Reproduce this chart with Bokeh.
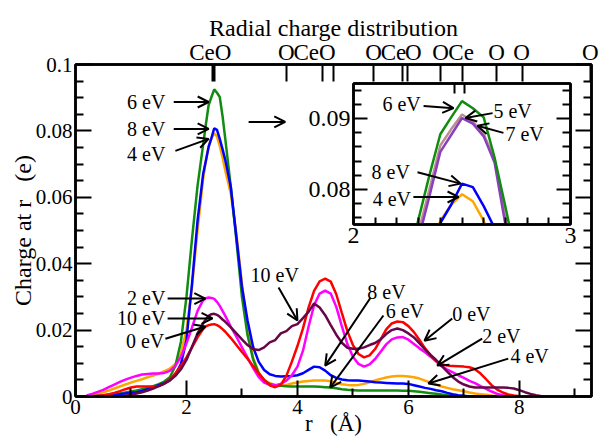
from bokeh.plotting import figure
from bokeh.models import (FixedTicker, LinearAxis, Range1d, Label, Arrow, OpenHead,
                          ColumnDataSource, AllLabels)
from bokeh.layouts import column
from bokeh.embed import file_html
from bokeh.resources import INLINE

FONT = "Liberation Serif"
NB = "\u00a0"

# ---------------- data (r in Angstrom, charge in e) ----------------
r_low = [0.2, 0.3, 0.4, 0.5, 0.6, 0.7, 0.8, 0.9, 1.0, 1.1, 1.2, 1.3, 1.4, 1.5, 1.6,
         1.7, 1.8, 1.9, 2.0, 2.1, 2.2, 2.3]
r_mid = [2.35, 2.4, 2.45, 2.5, 2.55, 2.6, 2.65]
r_high = [2.7, 2.8, 2.9, 3.0, 3.1, 3.2, 3.3, 3.4, 3.5, 3.6, 3.7, 3.8, 3.9,
          4.0, 4.1, 4.2, 4.3, 4.4, 4.5, 4.6, 4.7, 4.8, 4.9,
          5.0, 5.1, 5.2, 5.3, 5.4, 5.5, 5.6, 5.7, 5.8, 5.9,
          6.0, 6.1, 6.2, 6.3, 6.4, 6.5, 6.6, 6.7, 6.8, 6.9,
          7.0, 7.1, 7.2, 7.3, 7.4, 7.5, 7.6, 7.7, 7.8, 7.9,
          8.0, 8.1, 8.2, 8.3, 8.4, 8.5, 8.6, 8.7, 8.8]
r = r_low + r_mid + r_high

q_0eV = [0.0000, 0.0001, 0.0002, 0.0004, 0.0007, 0.0011, 0.0016, 0.0022, 0.0027, 0.0030, 0.0030,
         0.0030, 0.0030, 0.0031, 0.0038, 0.0052, 0.0070, 0.0092, 0.0118, 0.0148, 0.0178, 0.0203,
         0.0211, 0.0215, 0.0217, 0.0218, 0.0215, 0.0210, 0.0203,
         0.0195, 0.0176, 0.0155, 0.0134, 0.0114, 0.0092, 0.0070, 0.0050, 0.0034, 0.0028, 0.0035, 0.0062, 0.0105,
         0.0152, 0.0205, 0.0268, 0.0318, 0.0347, 0.0355, 0.0346, 0.0308, 0.0252, 0.0197,
         0.0155, 0.0128, 0.0118, 0.0124, 0.0143, 0.0172, 0.0202, 0.0220, 0.0226, 0.0224,
         0.0212, 0.0194, 0.0170, 0.0145, 0.0124, 0.0107, 0.0097, 0.0093, 0.0092, 0.0091,
         0.0090, 0.0088, 0.0082, 0.0069, 0.0052, 0.0034, 0.0021, 0.0012, 0.0006, 0.0003,
         0.0001, 0, 0, 0, 0, 0, 0, 0, 0]

q_2eV = [0.0003, 0.0008, 0.0014, 0.0020, 0.0028, 0.0036, 0.0044, 0.0051, 0.0057, 0.0062, 0.0066,
         0.0068, 0.0069, 0.0069, 0.0071, 0.0077, 0.0092, 0.0120, 0.0160, 0.0208, 0.0258, 0.0290,
         0.0296, 0.0298, 0.0297, 0.0294, 0.0285, 0.0273, 0.0258,
         0.0243, 0.0210, 0.0180, 0.0148, 0.0117, 0.0086, 0.0059, 0.0042, 0.0035, 0.0034, 0.0038, 0.0048, 0.0064,
         0.0090, 0.0138, 0.0210, 0.0275, 0.0310, 0.0319, 0.0310, 0.0270, 0.0212, 0.0158,
         0.0120, 0.0098, 0.0090, 0.0097, 0.0113, 0.0135, 0.0157, 0.0172, 0.0178, 0.0179,
         0.0171, 0.0158, 0.0145, 0.0133, 0.0120, 0.0105, 0.0091, 0.0081, 0.0073, 0.0064,
         0.0056, 0.0047, 0.0040, 0.0031, 0.0023, 0.0015, 0.0008, 0.0004, 0.0001, 0,
         0, 0, 0, 0, 0, 0, 0, 0, 0]

q_4eV = [0.0002, 0.0005, 0.0009, 0.0013, 0.0018, 0.0024, 0.0030, 0.0036, 0.0042, 0.0047, 0.0052,
         0.0058, 0.0063, 0.0069, 0.0076, 0.0084, 0.0098, 0.0130, 0.0200, 0.0330, 0.0500, 0.0655,
         0.0710, 0.0755, 0.0778, 0.0793, 0.0783, 0.0755, 0.0720,
         0.0680, 0.0610, 0.0490, 0.0340, 0.0205, 0.0118, 0.0073, 0.0050, 0.0040, 0.0035, 0.0033, 0.0035, 0.0039,
         0.0042, 0.0045, 0.0047, 0.0048, 0.0048, 0.0048, 0.0046, 0.0041, 0.0037, 0.0035,
         0.0034, 0.0035, 0.0038, 0.0043, 0.0048, 0.0053, 0.0057, 0.0060, 0.0062, 0.0062,
         0.0060, 0.0058, 0.0054, 0.0048, 0.0042, 0.0036, 0.0030, 0.0026, 0.0022, 0.0019,
         0.0016, 0.0012, 0.0009, 0.0007, 0.0005, 0.0003, 0.0002, 0.0001, 0, 0,
         0, 0, 0, 0, 0, 0, 0, 0, 0]

q_6eV = [0.0000, 0.0001, 0.0002, 0.0003, 0.0005, 0.0007, 0.0009, 0.0012, 0.0015, 0.0018, 0.0022,
         0.0026, 0.0031, 0.0037, 0.0045, 0.0058, 0.0092, 0.0165, 0.0300, 0.0475, 0.0635, 0.0758,
         0.0820, 0.0878, 0.0902, 0.0925, 0.0915, 0.0902, 0.0845,
         0.0775, 0.0630, 0.0470, 0.0300, 0.0185, 0.0112, 0.0070, 0.0048, 0.0038, 0.0034, 0.0032, 0.0031, 0.0030,
         0.0030, 0.0030, 0.0030, 0.0030, 0.0029, 0.0028, 0.0027, 0.0025, 0.0022, 0.0020,
         0.0019, 0.0018, 0.0018, 0.0018, 0.0018, 0.0018, 0.0018, 0.0018, 0.0018, 0.0017,
         0.0017, 0.0016, 0.0014, 0.0012, 0.0010, 0.0008, 0.0006, 0.0004, 0.0003, 0.0001,
         0, 0, 0, 0, 0, 0, 0, 0, 0, 0,
         0, 0, 0, 0, 0, 0, 0, 0, 0]

q_8eV = [0.0000, 0.0000, 0.0001, 0.0002, 0.0003, 0.0005, 0.0007, 0.0009, 0.0011, 0.0013, 0.0017,
         0.0022, 0.0028, 0.0034, 0.0040, 0.0050, 0.0066, 0.0098, 0.0170, 0.0340, 0.0530, 0.0670,
         0.0710, 0.0752, 0.0778, 0.0808, 0.0803, 0.0776, 0.0745,
         0.0712, 0.0630, 0.0480, 0.0330, 0.0230, 0.0150, 0.0105, 0.0080, 0.0067, 0.0062, 0.0060, 0.0061, 0.0062,
         0.0064, 0.0070, 0.0080, 0.0090, 0.0088, 0.0078, 0.0064, 0.0056, 0.0051, 0.0049,
         0.0048, 0.0048, 0.0047, 0.0045, 0.0043, 0.0042, 0.0041, 0.0040, 0.0039, 0.0039,
         0.0038, 0.0034, 0.0030, 0.0026, 0.0023, 0.0019, 0.0016, 0.0011, 0.0007, 0.0004,
         0.0002, 0, 0, 0, 0, 0, 0, 0, 0, 0,
         0, 0, 0, 0, 0, 0, 0, 0, 0]

q_10eV = [0, 0, 0, 0, 0, 0, 0, 0.0002, 0.0005, 0.0009, 0.0013,
          0.0018, 0.0024, 0.0031, 0.0039, 0.0048, 0.0062, 0.0082, 0.0110, 0.0150, 0.0190, 0.0220,
          0.0233, 0.0243, 0.0248, 0.0249, 0.0246, 0.0240, 0.0232,
          0.0225, 0.0208, 0.0190, 0.0172, 0.0155, 0.0143, 0.0140, 0.0148, 0.0163, 0.0170, 0.0190, 0.0197, 0.0212,
          0.0218, 0.0236, 0.0255, 0.0280, 0.0268, 0.0245, 0.0215, 0.0186, 0.0162, 0.0147,
          0.0144, 0.0144, 0.0148, 0.0155, 0.0161, 0.0172, 0.0188, 0.0200, 0.0205, 0.0200,
          0.0190, 0.0178, 0.0160, 0.0142, 0.0125, 0.0110, 0.0092, 0.0075, 0.0058, 0.0045,
          0.0036, 0.0030, 0.0027, 0.0027, 0.0027, 0.0027, 0.0027, 0.0027, 0.0026, 0.0024,
          0.0019, 0.0013, 0.0008, 0.0004, 0.0001, 0, 0, 0, 0]

# inset-only series (5 eV, 7 eV) near the first peak
r_inset = [2.2, 2.3, 2.35, 2.4, 2.45, 2.5, 2.55, 2.6, 2.65, 2.7, 2.8]
q_5eV = [0.0610, 0.0740, 0.0800, 0.0862, 0.0885, 0.0906, 0.0896, 0.0878, 0.0843, 0.0758, 0.0610]
q_7eV = [0.0600, 0.0730, 0.0790, 0.0853, 0.0877, 0.0901, 0.0893, 0.0875, 0.0838, 0.0750, 0.0600]

# atomic shells (top axis): tick positions, and label text with its centre
atom_r = [2.465, 2.51, 3.81, 4.45, 4.65, 5.37, 5.89, 5.98, 6.58, 6.97, 7.59, 8.05, 9.28]
atom_names = ["CeO", "O", "Ce", "O", "O", "Ce", "O", "O", "Ce", "O", "O", "O"]
atom_name_pos = [2.43, 3.80, 4.16, 4.54, 5.37, 5.73, 6.09, 6.58, 6.95, 7.59, 8.04, 9.28]

x_major = [0, 2, 4, 6, 8]
x_minor = [1, 3, 5, 7, 9]
y_major = [0, 0.02, 0.04, 0.06, 0.08, 0.1]
y_labels = ["0", "0.02", "0.04", "0.06", "0.08", "0.1"]
y_minor = [0.005, 0.01, 0.015, 0.025, 0.03, 0.035, 0.045, 0.05, 0.055,
           0.065, 0.07, 0.075, 0.085, 0.09, 0.095]

ix_major = [2, 3]
ix_minor = [2.1, 2.2, 2.3, 2.4, 2.5, 2.6, 2.7, 2.8, 2.9]
iy_major = [0.08, 0.09]
iy_labels = ["0.08", "0.09"]
iy_minor = [0.076, 0.078, 0.082, 0.084, 0.086, 0.088, 0.092, 0.094]

series = [  # label, values, colour (drawing order)
    ("4 eV", q_4eV, "#ffa500"),
    ("6 eV", q_6eV, "#118c11"),
    ("8 eV", q_8eV, "#0000ff"),
    ("2 eV", q_2eV, "#ff00ff"),
    ("0 eV", q_0eV, "#ff0000"),
    ("10 eV", q_10eV, "#670748"),
]
col_5eV = "#bc8f8f"
col_7eV = "#8a3fc0"

# annotations: text, text x, text y, align, arrow start x, y, arrow end x, y
annots_main = [
    ("6 eV", 1.62, 0.0887, "right", 1.77, 0.0887, 2.40, 0.0887),
    ("8 eV", 1.62, 0.0806, "right", 1.77, 0.0806, 2.40, 0.0806),
    ("4 eV", 1.62, 0.0731, "right", 1.80, 0.0740, 2.40, 0.0776),
    ("2 eV", 1.62, 0.0298, "right", 1.66, 0.0295, 2.34, 0.0295),
    ("10 eV", 1.62, 0.0235, "right", 1.66, 0.0235, 2.47, 0.0235),
    ("0 eV", 1.60, 0.0168, "right", 1.62, 0.0174, 2.34, 0.0211),
    ("10 eV", 3.59, 0.0367, "center", 3.66, 0.0328, 4.00, 0.0229),
    ("8 eV", 5.26, 0.0316, "left", 5.32, 0.0298, 4.50, 0.0093),
    ("6 eV", 5.59, 0.0259, "left", 5.55, 0.0244, 4.59, 0.0027),
    ("0 eV", 6.79, 0.0250, "left", 6.79, 0.0235, 6.29, 0.0168),
    ("2 eV", 7.33, 0.0183, "left", 7.33, 0.0174, 6.52, 0.0093),
    ("4 eV", 7.84, 0.0123, "left", 7.80, 0.0114, 6.36, 0.0039),
]
pointer_arrow = (3.12, 0.0827, 3.78, 0.0827)
annots_inset = [
    ("6 eV", 2.31, 0.0921, "right", 2.323, 0.0918, 2.461, 0.0915),
    ("5 eV", 2.645, 0.0911, "left", 2.641, 0.0908, 2.516, 0.0901),
    ("7 eV", 2.70, 0.0879, "left", 2.691, 0.0880, 2.571, 0.0890),
    ("8 eV", 2.26, 0.0824, "right", 2.295, 0.0824, 2.493, 0.0808),
    ("4 eV", 2.265, 0.0786, "right", 2.276, 0.0789, 2.484, 0.0789),
]


def style_axis(ax, tick_in, minor_in, font_size):
    ax.axis_line_width = 2.5
    ax.axis_line_color = "black"
    ax.major_tick_in = tick_in
    ax.major_tick_out = 0
    ax.minor_tick_in = minor_in
    ax.minor_tick_out = 0
    ax.major_tick_line_width = 2
    ax.minor_tick_line_width = 2
    ax.major_tick_line_color = "black"
    ax.minor_tick_line_color = "black"
    ax.major_label_text_font = FONT
    ax.major_label_text_font_size = font_size
    ax.major_label_text_color = "black"
    ax.major_label_standoff = 3
    ax.axis_label_text_font = FONT
    ax.axis_label_text_font_style = "normal"
    ax.axis_label_text_color = "black"


# ---------------- main figure ----------------
p = figure(frame_width=516, frame_height=332,
           x_range=Range1d(0, 9.3), y_range=Range1d(0, 0.1),
           min_border_left=75, min_border_right=8, min_border_top=64, min_border_bottom=41,
           output_backend="svg", toolbar_location=None,
           background_fill_color="white", border_fill_color="white",
           outline_line_color="black", outline_line_width=2.5)
p.grid.visible = False

p.xaxis.ticker = FixedTicker(ticks=x_major, minor_ticks=x_minor)
p.yaxis.ticker = FixedTicker(ticks=y_major, minor_ticks=y_minor)
p.yaxis.major_label_overrides = dict(zip(y_major, y_labels))
style_axis(p.xaxis[0], 16, 8, "21px")
style_axis(p.yaxis[0], 16, 8, "21px")
p.xaxis.axis_label = "r" + NB * 3 + "(Å)"
p.xaxis.axis_label_text_font_size = "23px"
p.xaxis.axis_label_standoff = -6
p.yaxis.axis_label = "Charge at r" + NB * 3 + "(e)"
p.yaxis.axis_label_text_font_size = "24px"
p.yaxis.axis_label_standoff = -3

right_ax = LinearAxis(ticker=FixedTicker(ticks=y_major, minor_ticks=y_minor),
                      major_label_overrides={t: "" for t in y_major})
style_axis(right_ax, 16, 8, "1px")
p.add_layout(right_ax, "right")

# top axis 1: tick marks at the atomic shells
top_ax = LinearAxis(ticker=FixedTicker(ticks=atom_r, minor_ticks=[]),
                    major_label_overrides={t: "" for t in atom_r})
style_axis(top_ax, 17, 0, "1px")
top_ax.major_label_standoff = 0
p.add_layout(top_ax, "above")

# top axis 2: the species names and the title
name_ax = LinearAxis(ticker=FixedTicker(ticks=atom_name_pos, minor_ticks=[]),
                     major_label_overrides=dict(zip(atom_name_pos, atom_names)),
                     major_label_policy=AllLabels())
style_axis(name_ax, 0, 0, "23px")
name_ax.axis_line_color = None
name_ax.major_tick_line_color = None
name_ax.minor_tick_line_color = None
name_ax.major_label_standoff = 0
name_ax.axis_label = "Radial charge distribution"
name_ax.axis_label_text_font_size = "24px"
name_ax.axis_label_standoff = -4
p.add_layout(name_ax, "above")

for name, vals, col in series:
    src = ColumnDataSource(dict(r=r, q=vals))
    p.line("r", "q", source=src, line_color=col, line_width=2.5)

for text, tx, ty, al, x0, y0, x1, y1 in annots_main:
    p.add_layout(Label(x=tx, y=ty, text=text, text_align=al, text_baseline="middle",
                       text_font=FONT, text_font_size="20px", text_color="black"))
    p.add_layout(Arrow(x_start=x0, y_start=y0, x_end=x1, y_end=y1, line_width=2,
                       line_color="black",
                       end=OpenHead(size=11, line_width=2, line_color="black")))
p.add_layout(Arrow(x_start=pointer_arrow[0], y_start=pointer_arrow[1],
                   x_end=pointer_arrow[2], y_end=pointer_arrow[3], line_width=2,
                   line_color="black", end=OpenHead(size=11, line_width=2, line_color="black")))

# ---------------- inset ----------------
# (left/right borders equal the main figure's, as the column aligns them)
inset = figure(frame_width=217, frame_height=141,
               x_range=Range1d(2, 3), y_range=Range1d(0.075, 0.095),
               min_border_left=75, min_border_right=8, min_border_top=4, min_border_bottom=36,
               output_backend="svg", toolbar_location=None,
               background_fill_color="white", border_fill_color=None,
               outline_line_color="black", outline_line_width=2.5)
inset.grid.visible = False
inset.xaxis.ticker = FixedTicker(ticks=ix_major, minor_ticks=ix_minor)
inset.yaxis.ticker = FixedTicker(ticks=iy_major, minor_ticks=iy_minor)
inset.yaxis.major_label_overrides = dict(zip(iy_major, iy_labels))
style_axis(inset.xaxis[0], 12, 7, "24px")
style_axis(inset.yaxis[0], 14, 8, "24px")
iright = LinearAxis(ticker=FixedTicker(ticks=iy_major, minor_ticks=iy_minor),
                    major_label_overrides={t: "" for t in iy_major})
style_axis(iright, 14, 8, "1px")
inset.add_layout(iright, "right")
inset_atoms = [a for a in atom_r if 2 <= a <= 3]
itop = LinearAxis(ticker=FixedTicker(ticks=inset_atoms, minor_ticks=[]),
                  major_label_overrides={t: "" for t in inset_atoms})
style_axis(itop, 10, 0, "1px")
inset.add_layout(itop, "above")

isrc = [(r, q_4eV, "#ffa500"), (r, q_8eV, "#0000ff"),
        (r_inset, q_5eV, col_5eV), (r_inset, q_7eV, col_7eV),
        (r, q_6eV, "#118c11")]
for rr, vals, col in isrc:
    inset.line("r", "q", source=ColumnDataSource(dict(r=rr, q=vals)), line_color=col, line_width=2.5)

for text, tx, ty, al, x0, y0, x1, y1 in annots_inset:
    inset.add_layout(Label(x=tx, y=ty, text=text, text_align=al, text_baseline="middle",
                           text_font=FONT, text_font_size="20px", text_color="black"))
    inset.add_layout(Arrow(x_start=x0, y_start=y0, x_end=x1, y_end=y1, line_width=2,
                           line_color="black",
                           end=OpenHead(size=11, line_width=2, line_color="black")))

inset.styles = {"position": "absolute", "left": "278px", "top": "79px", "z-index": "2"}
layout = column(p, inset)
layout.styles = {"position": "relative"}

open("out.html", "w").write(file_html(layout, INLINE))
